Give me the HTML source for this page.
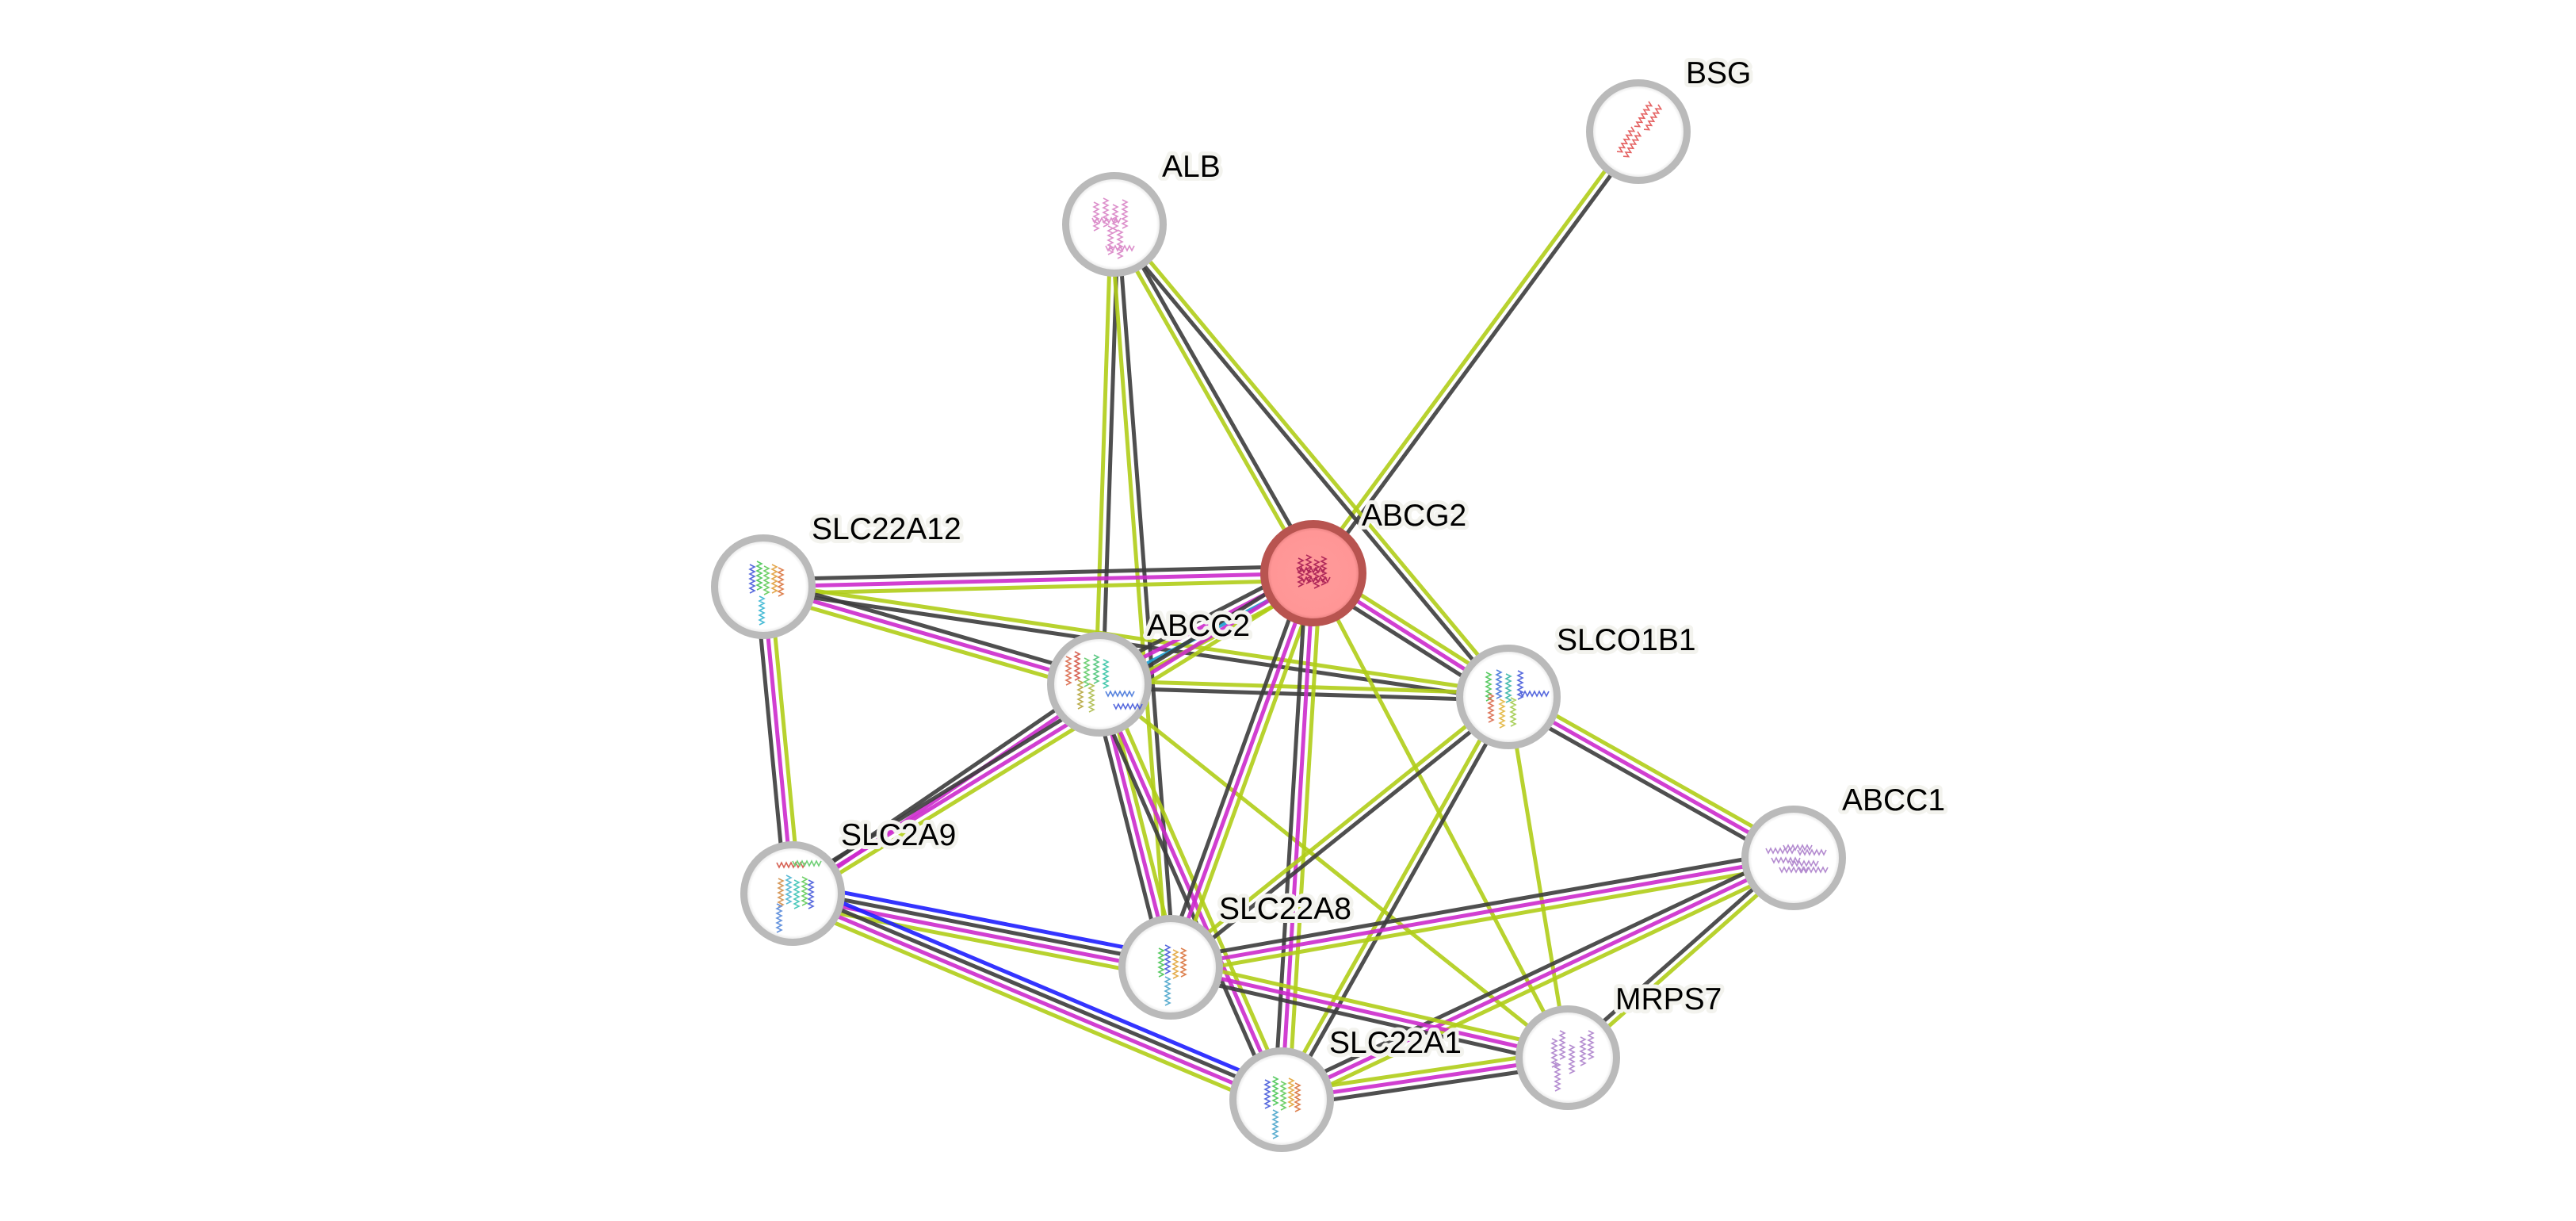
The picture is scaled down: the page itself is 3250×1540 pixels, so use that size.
<!DOCTYPE html>
<html>
<head>
<meta charset="utf-8">
<style>
html,body{margin:0;padding:0;background:#fff;}
svg{display:block;}
.e line{stroke-width:5;stroke-opacity:.9;fill:none;}
.k{stroke:#3c3c3c;}
.m{stroke:#cc2acc;}
.g{stroke:#b0cd18;}
.b{stroke:#1e1eff;}
.c{stroke:#1a9fd2;}
.lbl{font-family:"Liberation Sans",Arial,sans-serif;font-size:39px;fill:#000;stroke:#f3f3ee;stroke-width:10;stroke-linejoin:round;paint-order:stroke fill;}
.nd{fill:url(#ng);stroke:#bababa;stroke-width:9;}
.ic{opacity:.85;}
</style>
</head>
<body>
<svg width="3250" height="1540" viewBox="0 0 3250 1540" xmlns="http://www.w3.org/2000/svg">
<defs>
<radialGradient id="ng" cx="0.5" cy="0.5" r="0.5">
<stop offset="0" stop-color="#ffffff"/>
<stop offset="0.86" stop-color="#ffffff"/>
<stop offset="1" stop-color="#d6d6d6"/>
</radialGradient>
<radialGradient id="rg" cx="0.5" cy="0.5" r="0.5">
<stop offset="0" stop-color="#ff9a9a"/>
<stop offset="0.86" stop-color="#ff9696"/>
<stop offset="1" stop-color="#d87070"/>
</radialGradient>
<path id="hx" d="M0,0 l6,3 l-6,3 l6,3 l-6,3 l6,3 l-6,3 l6,3 l-6,3 l6,3 l-6,3 l6,3 l-6,3" fill="none" stroke="currentColor" stroke-width="1.6"/>
<path id="hh" d="M0,0 l3,6 l3,-6 l3,6 l3,-6 l3,6 l3,-6 l3,6 l3,-6 l3,6 l3,-6 l3,6 l3,-6" fill="none" stroke="currentColor" stroke-width="1.6"/>
</defs>

<!-- edges -->
<g class="e">
<g transform="translate(1657,723) rotate(-53.64)"><line x2="691.6" y1="-4.5" y2="-4.5" class="g"/><line x2="691.6" y1="4.5" y2="4.5" class="k"/></g>
<g transform="translate(1406,283) rotate(60.30)"><line x2="506.6" y1="-4.5" y2="-4.5" class="k"/><line x2="506.6" y1="4.5" y2="4.5" class="g"/></g>
<g transform="translate(1387,863) rotate(-88.12)"><line x2="580.3" y1="-4.5" y2="-4.5" class="g"/><line x2="580.3" y1="4.5" y2="4.5" class="k"/></g>
<g transform="translate(1477,1220) rotate(-94.33)"><line x2="939.7" y1="-4.5" y2="-4.5" class="g"/><line x2="939.7" y1="4.5" y2="4.5" class="k"/></g>
<g transform="translate(1406,283) rotate(50.18)"><line x2="776" y1="-4.5" y2="-4.5" class="g"/><line x2="776" y1="4.5" y2="4.5" class="k"/></g>
<g transform="translate(963,740) rotate(-1.403)"><line x2="694.2" y1="-9" y2="-9" class="k"/><line x2="694.2" class="m"/><line x2="694.2" y1="9" y2="9" class="g"/></g>
<g transform="translate(963,740) rotate(16.18)"><line x2="441.5" y1="-9" y2="-9" class="k"/><line x2="441.5" class="m"/><line x2="441.5" y1="9" y2="9" class="g"/></g>
<g transform="translate(963,740) rotate(8.41)"><line x2="950.2" y1="-4.5" y2="-4.5" class="g"/><line x2="950.2" y1="4.5" y2="4.5" class="k"/></g>
<g transform="translate(1000,1127) rotate(-95.46)"><line x2="388.8" y1="-9" y2="-9" class="k"/><line x2="388.8" class="m"/><line x2="388.8" y1="9" y2="9" class="g"/></g>
<g transform="translate(1387,863) rotate(-27.41)"><line x2="304.1" y1="-13.5" y2="-13.5" class="k"/><line x2="304.1" y1="-4.5" y2="-4.5" class="m"/><line x2="304.1" y1="4.5" y2="4.5" class="c"/><line x2="304.1" y1="13.5" y2="13.5" class="g"/></g>
<g transform="translate(1387,863) rotate(1.776)"><line x2="516.2" y1="-4.5" y2="-4.5" class="g"/><line x2="516.2" y1="4.5" y2="4.5" class="k"/></g>
<g transform="translate(1000,1127) rotate(-34.30)"><line x2="468.5" y1="-4.5" y2="-4.5" class="k"/><line x2="468.5" y1="4.5" y2="4.5" class="m"/></g>
<g transform="translate(1000,1127) rotate(-31.59)"><line x2="771.3" y1="-9" y2="-9" class="k"/><line x2="771.3" class="m"/><line x2="771.3" y1="9" y2="9" class="g"/></g>
<g transform="translate(1477,1220) rotate(-104.15)"><line x2="368.2" y1="-9" y2="-9" class="k"/><line x2="368.2" class="m"/><line x2="368.2" y1="9" y2="9" class="g"/></g>
<g transform="translate(1617,1387) rotate(-113.70)"><line x2="572.3" y1="-9" y2="-9" class="k"/><line x2="572.3" class="m"/><line x2="572.3" y1="9" y2="9" class="g"/></g>
<g transform="translate(1387,863) rotate(38.55)"><line x2="755.7" class="g"/></g>
<g transform="translate(1657,723) rotate(32.38)"><line x2="291.3" y1="-9" y2="-9" class="g"/><line x2="291.3" class="m"/><line x2="291.3" y1="9" y2="9" class="k"/></g>
<g transform="translate(1477,1220) rotate(-70.09)"><line x2="528.6" y1="-9" y2="-9" class="k"/><line x2="528.6" class="m"/><line x2="528.6" y1="9" y2="9" class="g"/></g>
<g transform="translate(1617,1387) rotate(-86.55)"><line x2="665.2" y1="-9" y2="-9" class="k"/><line x2="665.2" class="m"/><line x2="665.2" y1="9" y2="9" class="g"/></g>
<g transform="translate(1657,723) rotate(62.28)"><line x2="690.2" class="g"/></g>
<g transform="translate(1903,879) rotate(29.42)"><line x2="413.3" y1="-9" y2="-9" class="g"/><line x2="413.3" class="m"/><line x2="413.3" y1="9" y2="9" class="k"/></g>
<g transform="translate(1477,1220) rotate(-38.68)"><line x2="545.7" y1="-4.5" y2="-4.5" class="g"/><line x2="545.7" y1="4.5" y2="4.5" class="k"/></g>
<g transform="translate(1617,1387) rotate(-60.62)"><line x2="583" y1="-4.5" y2="-4.5" class="g"/><line x2="583" y1="4.5" y2="4.5" class="k"/></g>
<g transform="translate(1903,879) rotate(80.64)"><line x2="461.1" class="g"/></g>
<g transform="translate(1477,1220) rotate(-9.96)"><line x2="798" y1="-9" y2="-9" class="k"/><line x2="798" class="m"/><line x2="798" y1="9" y2="9" class="g"/></g>
<g transform="translate(1617,1387) rotate(-25.27)"><line x2="714.4" y1="-9" y2="-9" class="k"/><line x2="714.4" class="m"/><line x2="714.4" y1="9" y2="9" class="g"/></g>
<g transform="translate(1978,1334) rotate(-41.48)"><line x2="380.4" y1="-4.5" y2="-4.5" class="k"/><line x2="380.4" y1="4.5" y2="4.5" class="g"/></g>
<g transform="translate(1000,1127) rotate(11.03)"><line x2="486" y1="-13.5" y2="-13.5" class="b"/><line x2="486" y1="-4.5" y2="-4.5" class="k"/><line x2="486" y1="4.5" y2="4.5" class="m"/><line x2="486" y1="13.5" y2="13.5" class="g"/></g>
<g transform="translate(1000,1127) rotate(22.85)"><line x2="669.5" y1="-13.5" y2="-13.5" class="b"/><line x2="669.5" y1="-4.5" y2="-4.5" class="k"/><line x2="669.5" y1="4.5" y2="4.5" class="m"/><line x2="669.5" y1="13.5" y2="13.5" class="g"/></g>
<g transform="translate(1477,1220) rotate(12.82)"><line x2="513.8" y1="-9" y2="-9" class="g"/><line x2="513.8" class="m"/><line x2="513.8" y1="9" y2="9" class="k"/></g>
<g transform="translate(1617,1387) rotate(-8.35)"><line x2="364.9" y1="-9" y2="-9" class="g"/><line x2="364.9" class="m"/><line x2="364.9" y1="9" y2="9" class="k"/></g>
</g>

<!-- nodes -->
<circle class="nd" cx="2067" cy="166" r="61.5"/>
<circle class="nd" cx="1406" cy="283" r="61.5"/>
<circle class="nd" cx="963" cy="740" r="61.5"/>
<circle class="nd" cx="1387" cy="863" r="61.5"/>
<circle class="nd" cx="1903" cy="879" r="61.5"/>
<circle class="nd" cx="2263" cy="1082" r="61.5"/>
<circle class="nd" cx="1000" cy="1127" r="61.5"/>
<circle class="nd" cx="1477" cy="1220" r="61.5"/>
<circle class="nd" cx="1978" cy="1334" r="61.5"/>
<circle class="nd" cx="1617" cy="1387" r="61.5"/>
<circle cx="1657" cy="723" r="62" fill="url(#rg)" stroke="#b85450" stroke-width="10"/>

<!-- structure icons -->
<g class="ic" color="#a3154f">
<use href="#hx" x="1638" y="704"/><use href="#hx" x="1648" y="700"/><use href="#hx" x="1658" y="706"/><use href="#hx" x="1667" y="702"/>
<use href="#hh" x="1636" y="716"/><use href="#hh" x="1642" y="728"/>
</g>
<g class="ic" color="#e04848">
<use href="#hx" transform="translate(2080,128) rotate(30)"/><use href="#hx" transform="translate(2092,132) rotate(30)"/>
<use href="#hx" transform="translate(2058,160) rotate(30)"/><use href="#hx" transform="translate(2066,166) rotate(30)"/>
</g>
<g class="ic" color="#d77cc2">
<use href="#hx" x="1380" y="255"/><use href="#hx" x="1392" y="250"/><use href="#hx" x="1404" y="258"/><use href="#hx" x="1416" y="252"/>
<use href="#hx" x="1398" y="285"/><use href="#hx" x="1410" y="290"/><use href="#hh" x="1378" y="275"/><use href="#hh" x="1395" y="310"/>
</g>
<g class="ic">
<use href="#hx" x="946" y="712" color="#3a4fd8"/><use href="#hx" x="955" y="708" color="#3ec24a"/><use href="#hx" x="964" y="714" color="#58c850"/>
<use href="#hx" x="974" y="712" color="#e09a30"/><use href="#hx" x="982" y="716" color="#d86a30"/><use href="#hx" x="958" y="752" color="#2ab0d0"/>
</g>
<g class="ic">
<use href="#hx" x="1345" y="828" color="#d86040"/><use href="#hx" x="1356" y="822" color="#d04838"/><use href="#hx" x="1368" y="830" color="#58c860"/>
<use href="#hx" x="1380" y="826" color="#40c070"/><use href="#hx" x="1392" y="832" color="#2ac0a0"/><use href="#hx" x="1360" y="858" color="#b0a030"/>
<use href="#hx" x="1374" y="862" color="#a8b840"/><use href="#hh" x="1395" y="872" color="#3a6ed8"/><use href="#hh" x="1405" y="888" color="#3a4fd8"/>
</g>
<g class="ic">
<use href="#hx" x="1875" y="848" color="#3ec24a"/><use href="#hx" x="1888" y="845" color="#3a6ed8"/><use href="#hx" x="1900" y="850" color="#2ab0a0"/>
<use href="#hx" x="1915" y="846" color="#3a4fd8"/><use href="#hx" x="1878" y="875" color="#d86040"/><use href="#hx" x="1892" y="882" color="#e0b030"/>
<use href="#hx" x="1906" y="880" color="#9cc840"/><use href="#hh" x="1918" y="872" color="#3a4fd8"/>
</g>
<g class="ic" color="#a878c8">
<use href="#hh" x="2228" y="1070"/><use href="#hh" x="2250" y="1066"/><use href="#hh" x="2268" y="1072"/><use href="#hh" x="2235" y="1082"/>
<use href="#hh" x="2258" y="1086"/><use href="#hh" x="2270" y="1094"/><use href="#hh" x="2245" y="1094"/>
</g>
<g class="ic">
<use href="#hh" x="980" y="1088" color="#d04838"/><use href="#hh" x="1000" y="1086" color="#58c860"/>
<use href="#hx" x="982" y="1108" color="#d08840"/><use href="#hx" x="992" y="1104" color="#40b0d0"/><use href="#hx" x="1002" y="1110" color="#30c0b0"/>
<use href="#hx" x="1012" y="1106" color="#58c850"/><use href="#hx" x="1020" y="1110" color="#3a4fd8"/><use href="#hx" x="980" y="1140" color="#4a80d8"/>
</g>
<g class="ic">
<use href="#hx" x="1462" y="1196" color="#3ec24a"/><use href="#hx" x="1470" y="1192" color="#3a4fd8"/><use href="#hx" x="1480" y="1198" color="#e0a030"/>
<use href="#hx" x="1490" y="1196" color="#d86a30"/><use href="#hx" x="1470" y="1232" color="#40a0c8"/>
</g>
<g class="ic" color="#a878c8">
<use href="#hx" x="1958" y="1310"/><use href="#hx" x="1968" y="1300"/><use href="#hx" x="1980" y="1318"/><use href="#hx" x="1994" y="1308"/>
<use href="#hx" x="2004" y="1300"/><use href="#hx" x="1962" y="1340"/>
</g>
<g class="ic">
<use href="#hx" x="1596" y="1362" color="#3a4fd8"/><use href="#hx" x="1606" y="1358" color="#3ec24a"/><use href="#hx" x="1616" y="1364" color="#58c850"/>
<use href="#hx" x="1626" y="1360" color="#e0a030"/><use href="#hx" x="1634" y="1366" color="#d86a30"/><use href="#hx" x="1606" y="1400" color="#40a0c8"/>
</g>

<!-- labels -->
<text class="lbl" x="2127" y="105">BSG</text>
<text class="lbl" x="1466" y="223">ALB</text>
<text class="lbl" x="1718" y="663">ABCG2</text>
<text class="lbl" x="1024" y="680">SLC22A12</text>
<text class="lbl" x="1447" y="802">ABCC2</text>
<text class="lbl" x="1964" y="820">SLCO1B1</text>
<text class="lbl" x="2324" y="1022">ABCC1</text>
<text class="lbl" x="1061" y="1066">SLC2A9</text>
<text class="lbl" x="1538" y="1159">SLC22A8</text>
<text class="lbl" x="2038" y="1273">MRPS7</text>
<text class="lbl" x="1677" y="1328">SLC22A1</text>
</svg>
</body>
</html>
